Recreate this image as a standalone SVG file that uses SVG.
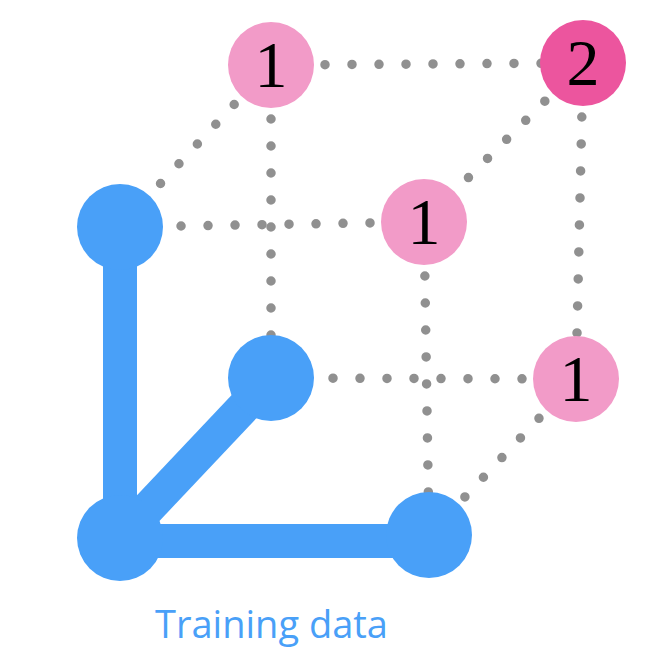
<svg xmlns="http://www.w3.org/2000/svg" width="663" height="672" viewBox="0 0 663 672">
<style>
.dot{stroke:#909090;stroke-width:9.5;stroke-linecap:round;stroke-dasharray:0 27;fill:none}
.bar{stroke:#49A0F8;stroke-width:34;fill:none}
.blue{fill:#49A0F8}
.pink{fill:#F29BC8}
.hot{fill:#EC559E}
.num{font-family:"Liberation Serif","Times New Roman",serif;font-size:66px;fill:#000;text-anchor:middle}
.lbl{font-family:"Open Sans",Lato,sans-serif;font-size:39px;fill:#49A0F8;text-anchor:middle}
</style>
<rect width="663" height="672" fill="#fff"/>
<g id="connectors">
<line class="dot" x1="271" y1="65" x2="583" y2="63"/>
<line class="dot" x1="271" y1="65" x2="120" y2="227"/>
<line class="dot" x1="271" y1="65" x2="271" y2="378"/>
<line class="dot" x1="424" y1="222" x2="120" y2="227"/>
<line class="dot" x1="583" y1="63" x2="424" y2="222"/>
<line class="dot" x1="583" y1="63" x2="576" y2="379"/>
<line class="dot" x1="424" y1="222" x2="429" y2="535"/>
<line class="dot" x1="576" y1="379" x2="271" y2="378"/>
<line class="dot" x1="576" y1="379" x2="429" y2="535"/>
<line class="bar" x1="120" y1="227" x2="120" y2="538"/>
<line class="bar" x1="120" y1="538" x2="271" y2="378"/>
<line class="bar" x1="120" y1="541" x2="429" y2="541"/>
</g>
<g id="b1"><circle class="blue" cx="120" cy="227" r="43"/></g>
<g id="b2"><circle class="blue" cx="271" cy="378" r="43"/></g>
<g id="b3"><circle class="blue" cx="120" cy="538" r="43"/></g>
<g id="b4"><circle class="blue" cx="429" cy="535" r="43"/></g>
<g id="p1"><circle class="pink" cx="271" cy="65" r="43"/><text class="num" x="271" y="87">1</text></g>
<g id="p2"><circle class="hot" cx="583" cy="63" r="43"/><text class="num" x="583" y="85">2</text></g>
<g id="p3"><circle class="pink" cx="424" cy="222" r="43"/><text class="num" x="424" y="244">1</text></g>
<g id="p4"><circle class="pink" cx="576" cy="379" r="43"/><text class="num" x="576" y="401">1</text></g>
<g id="label"><text class="lbl" x="271.5" y="638" textLength="233" lengthAdjust="spacingAndGlyphs">Training data</text></g>
</svg>
